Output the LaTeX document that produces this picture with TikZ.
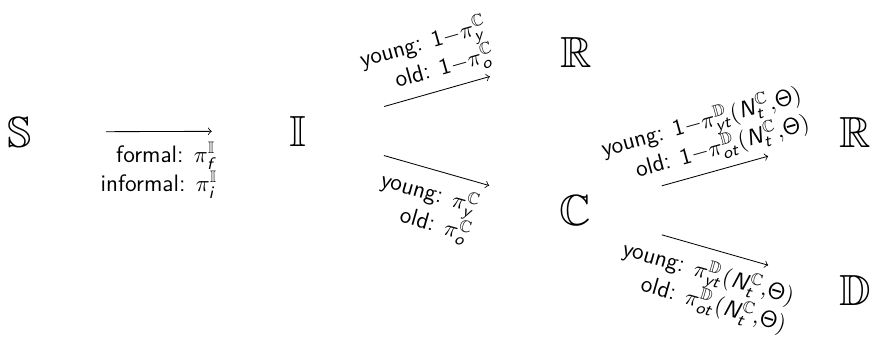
\documentclass[tikz,border=0pt]{standalone}
\usepackage{amssymb}
\usetikzlibrary{calc}
\DeclareMathAlphabet{\mathsfit}{OT1}{cmss}{m}{sl}
\newcommand{\sv}[1]{\mathsfit{#1}}
\begin{document}
\begin{tikzpicture}[x=0.476pt,y=-0.476pt,
  state/.style={font=\huge, inner sep=2pt},
  lbl/.style={align=right, font=\fontsize{11.3}{13.8}\selectfont\sffamily, inner sep=4pt},
  lblb/.style={lbl, inner sep=5pt},
  arr/.style={->}]
\useasboundingbox (0,0) rectangle (870,338);
\node[state] (S)  at (20,132)  {$\mathbb{S}$};
\node[state] (I)  at (298,131) {$\mathbb{I}$};
\node[state] (R1) at (576,52)  {$\mathbb{R}$};
\node[state] (C)  at (575,210) {$\mathbb{C}$};
\node[state] (R2) at (855,132) {$\mathbb{R}$};
\node[state] (D)  at (855,290) {$\mathbb{D}$};

\draw[arr] ($(S)!.31!(I)$) -- ($(S)!.69!(I)$)
  node[midway, below, lblb] {formal: $\pi^{\mathbb{I}}_{\sv{f}}$\\ informal: $\pi^{\mathbb{I}}_{\sv{i}}$};
\draw[arr] ($(I)!.31!(R1)$) -- ($(I)!.69!(R1)$)
  node[midway, above, sloped, lbl] {young: $\mathsf{1}{-}\pi^{\mathbb{C}}_{\sv{y}}$\\ old: $\mathsf{1}{-}\pi^{\mathbb{C}}_{\sv{o}}$};
\draw[arr] ($(I)!.31!(C)$) -- ($(I)!.69!(C)$)
  node[midway, below, sloped, lblb] {young: $\pi^{\mathbb{C}}_{\sv{y}}$\\ old: $\pi^{\mathbb{C}}_{\sv{o}}$};
\draw[arr] ($(C)!.31!(R2)$) -- ($(C)!.69!(R2)$)
  node[midway, above, sloped, lbl] {young: $\mathsf{1}{-}\pi^{\mathbb{D}}_{\sv{yt}}(\sv{N}^{\mathbb{C}}_{\sv{t}}{,}\mathsf{\Theta})$\\ old: $\mathsf{1}{-}\pi^{\mathbb{D}}_{\sv{ot}}(\sv{N}^{\mathbb{C}}_{\sv{t}}{,}\mathsf{\Theta})$};
\draw[arr] ($(C)!.31!(D)$) -- ($(C)!.69!(D)$)
  node[midway, below, sloped, lblb] {young: $\pi^{\mathbb{D}}_{\sv{yt}}(\sv{N}^{\mathbb{C}}_{\sv{t}}{,}\mathsf{\Theta})$\\ old: $\pi^{\mathbb{D}}_{\sv{ot}}(\sv{N}^{\mathbb{C}}_{\sv{t}}{,}\mathsf{\Theta})$};
\end{tikzpicture}
\end{document}
